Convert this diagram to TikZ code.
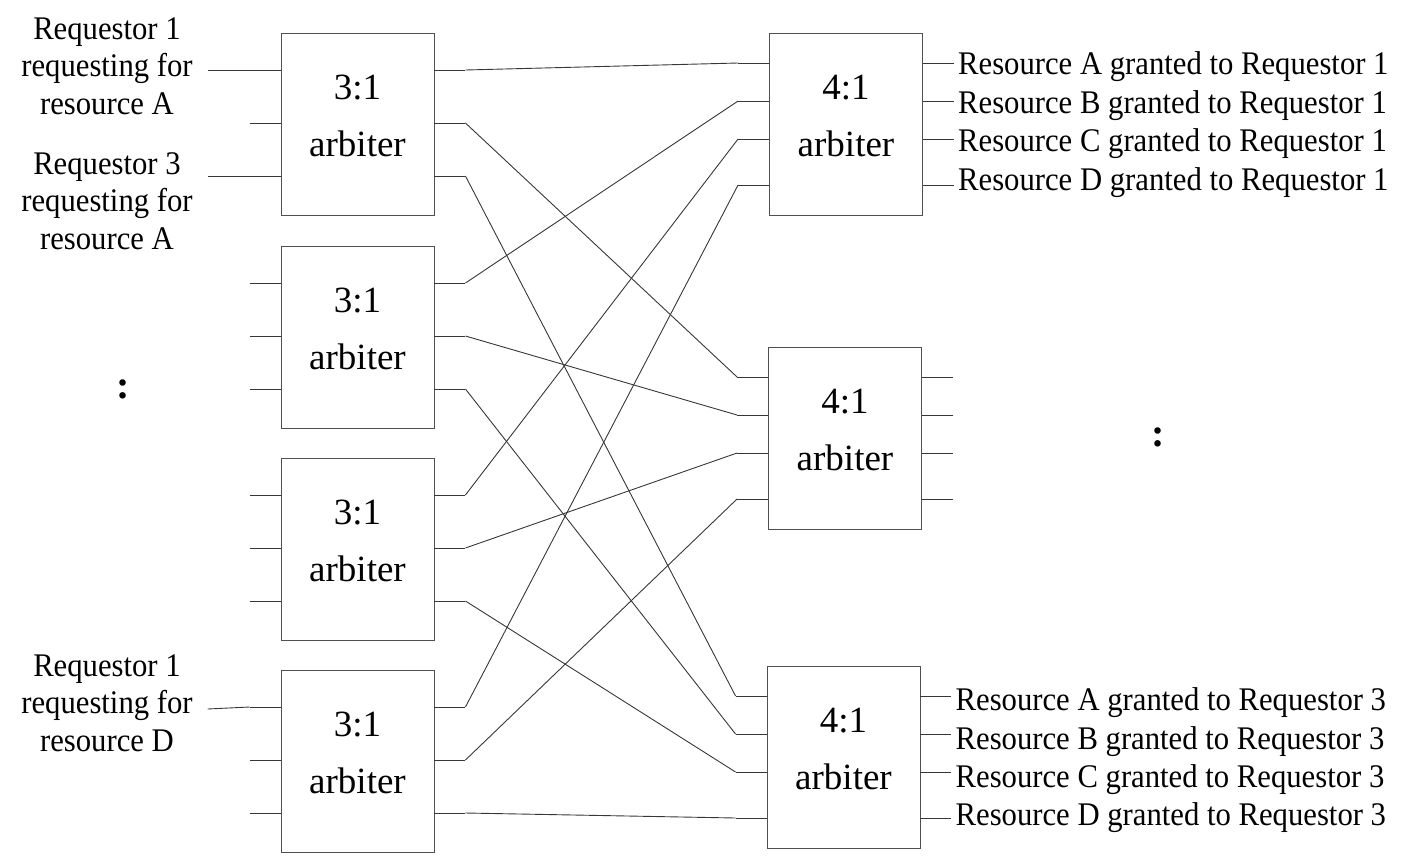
\documentclass[tikz,border=0pt]{standalone}
\usepackage{fontspec}
\setmainfont{Liberation Serif}
\newfontfamily\labelfont[FakeStretch=0.93]{Liberation Serif}
\usepackage{xcolor}
\usetikzlibrary{positioning}
\definecolor{wireColor}{RGB}{55, 55, 55}
\definecolor{boxColor}{RGB}{80, 80, 80}

\begin{document}
\begin{tikzpicture}[
		x=1pt, y=-1pt,
		% Define styles for nodes
		arbiter/.style={
				draw=boxColor,
				rectangle,
				minimum width=153pt,
				minimum height=182pt,
				line width=0.9pt,
				align=center,
				text depth=17pt,
				fill=white,
				font=\fontsize{37}{57}\selectfont
			},
		reqlabel/.style={
				align=center,
				font=\labelfont\fontsize{33}{37.5}\selectfont
			},
		grantlabel/.style={
				anchor=base west,
				inner sep=4pt,
				yshift=-10pt,
				font=\labelfont\fontsize{33}{37.5}\selectfont
			},
		ellipsisdots/.style={
				inner sep=0pt,
				font=\fontsize{40}{40}\selectfont\bfseries
			},
		wire/.style={
				draw=wireColor,
				line width=0.9pt
			}
	]

	% Picture size
	\useasboundingbox (0,0) rectangle (1414,860);

	% Set up fixed stub length
	\def\stub{31pt}

	% LEFT COLUMN: 3:1 arbiters
	\node[arbiter] (l1) at (357.5,124) {3:1\\arbiter};
	\node[arbiter] (l2) at (357.5,337) {3:1\\arbiter};
	\node[arbiter] (l3) at (357.5,549) {3:1\\arbiter};
	\node[arbiter] (l4) at (357.5,761) {3:1\\arbiter};

	% RIGHT COLUMN: 4:1 arbiters
	\node[arbiter] (r1) at (846,124) {4:1\\arbiter};
	\node[arbiter] (r2) at (845,438) {4:1\\arbiter};
	\node[arbiter] (r3) at (843.5,757) {4:1\\arbiter};

	% Requestor labels
	\node[reqlabel] (reqA1) at (107,66) {Requestor 1\\requesting for\\resource A};
	\node[reqlabel] (reqA3) at (107,201) {Requestor 3\\requesting for\\resource A};
	\node[reqlabel] (reqD1) at (107,703) {Requestor 1\\requesting for\\resource D};

	% Continuation dots
	\node[ellipsisdots] (moreleft) at (123,389) {:};
	\node[ellipsisdots] (moreright) at (1158,437) {:};

	% Ports of the 3:1 arbiters
	\foreach \i in {1,...,4} {
		\foreach \k/\dy in {1/54,2/1,3/-52} {
			\coordinate (lin\i\k) at ([xshift=-\stub,yshift=\dy pt]l\i.west);
			\coordinate (lout\i\k) at ([xshift=\stub,yshift=\dy pt]l\i.east);
			\draw[wire] (lin\i\k) -- (l\i.west |- lin\i\k);
			\draw[wire] (l\i.east |- lout\i\k) -- (lout\i\k);
		}
	}

	% Ports of the 4:1 arbiters
	\foreach \j in {1,2,3} {
		\foreach \k/\dy in {1/61,2/23,3/-15,4/-61} {
			\coordinate (rin\j\k) at ([xshift=-\stub,yshift=\dy pt]r\j.west);
			\coordinate (rout\j\k) at ([xshift=\stub,yshift=\dy pt]r\j.east);
			\draw[wire] (rin\j\k) -- (r\j.west |- rin\j\k);
			\draw[wire] (r\j.east |- rout\j\k) -- (rout\j\k);
		}
	}

	% Request wires from the labels
	\coordinate (srcA1) at ([xshift=-42pt]lin11);
	\coordinate (srcA3) at ([xshift=-42pt]lin13);
	\coordinate (srcD1) at ([xshift=-42pt,yshift=-2pt]lin41);
	\draw[wire] (srcA1) -- (lin11);
	\draw[wire] (srcA3) -- (lin13);
	\draw[wire] (srcD1) -- (lin41);

	% WIRES: output k of 3:1 arbiter i to input i of 4:1 arbiter k
	\foreach \i in {1,...,4} {
		\foreach \k in {1,2,3} {
			\draw[wire] (lout\i\k) -- (rin\k\i);
		}
	}

	% Grant labels, evenly spaced from the first output
	\foreach \res/\up/\low in {A/-1/-4,B/-40/-43,C/-78/-81,D/-117/-119} {
		\node[grantlabel] (gr1\res) at ([yshift=\up pt]rout11) {Resource \res{} granted to Requestor 1};
		\node[grantlabel] (gr3\res) at ([yshift=\low pt]rout31) {Resource \res{} granted to Requestor 3};
	}

\end{tikzpicture}
\end{document}
